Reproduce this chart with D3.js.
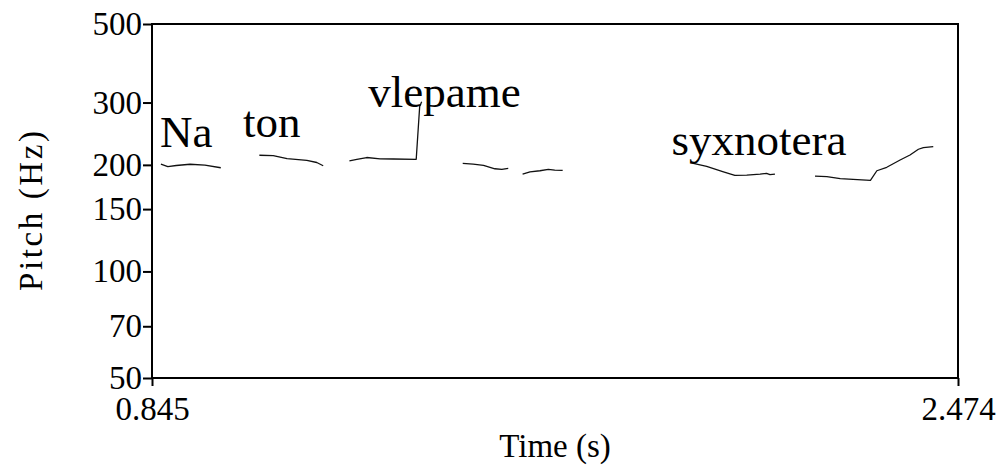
<!DOCTYPE html>
<html lang="en">
<head>
<meta charset="UTF-8">
<title>Pitch</title>
<script src="https://cdnjs.cloudflare.com/ajax/libs/d3/7.8.5/d3.min.js"></script>
<style>
    body { margin: 0; background: #fff; }
    svg text { font-family: "Liberation Serif", "Times New Roman", serif; fill: #000; }
</style>
</head>
<body>
<div class="container"></div>
<script>
    const xTicks = [0.845, 2.474];
    const yTicks = [50, 70, 100, 150, 200, 300, 500];

    // pitch contour pieces (time in s, pitch in Hz)
    const segTimes = [
        [0.863, 0.877, 0.894, 0.922, 0.952, 0.984],
        [1.062, 1.090, 1.118, 1.158, 1.178, 1.191],
        [1.244, 1.259, 1.279, 1.306, 1.333, 1.379, 1.386, 1.390],
        [1.473, 1.494, 1.515, 1.538, 1.552, 1.565],
        [1.594, 1.609, 1.629, 1.646, 1.659, 1.675],
        [1.939, 1.966, 2.000, 2.023, 2.047, 2.074, 2.087, 2.094, 2.104],
        [2.185, 2.209, 2.236, 2.262, 2.297, 2.310, 2.330, 2.357, 2.377, 2.394, 2.404, 2.424]
    ];
    const segPitch = [
        [201.1, 197.8, 199.2, 200.8, 199.8, 196.3],
        [212.9, 212.5, 208.3, 205.8, 203.1, 198.9],
        [205.3, 207.3, 209.8, 208.0, 207.8, 207.4, 292.3, 301.6],
        [202.0, 201.1, 199.4, 195.0, 194.3, 195.5],
        [188.4, 191.2, 192.5, 194.3, 193.4, 193.0],
        [202.0, 198.1, 191.2, 186.8, 187.2, 188.4, 189.3, 187.6, 188.4],
        [186.0, 185.2, 182.8, 182.1, 180.9, 192.5, 196.9, 206.4, 213.3, 221.4, 223.8, 225.2]
    ];

    const words = ['Na', 'ton', 'vlepame', 'syxnotera'];
    const wordTimes = [0.861, 1.029, 1.282, 1.895];
    const wordPitch = [224.6, 240.2, 291.9, 213.3];

    const width = 1002;
    const height = 471;
    const plotLeft = 152, plotRight = 958, plotTop = 24, plotBottom = 378;

    const svg = d3.select('.container')
        .append('svg')
        .attr('width', width)
        .attr('height', height);

    const xScale = d3.scaleLinear()
        .domain([xTicks[0], xTicks[1]])
        .range([plotLeft, plotRight]);

    const yScale = d3.scaleLog()
        .domain([50, 500])
        .range([plotBottom, plotTop]);

    // axes
    const yAxis = d3.axisLeft(yScale)
        .tickValues(yTicks)
        .tickSize(9)
        .tickPadding(1)
        .tickFormat(d3.format('d'));

    const xAxis = d3.axisBottom(xScale)
        .tickValues(xTicks)
        .tickSize(8)
        .tickPadding(11)
        .tickFormat(d3.format('.3f'));

    const gy = svg.append('g')
        .attr('transform', 'translate(' + plotLeft + ',0)')
        .call(yAxis);

    const gx = svg.append('g')
        .attr('transform', 'translate(0,' + plotBottom + ')')
        .call(xAxis);

    [gx, gy].forEach(g => {
        g.select('.domain').remove();
        g.selectAll('line').attr('stroke', '#000').attr('stroke-width', 2);
        g.selectAll('text')
            .attr('font-family', '"Liberation Serif", "Times New Roman", serif')
            .attr('font-size', 33)
            .attr('fill', '#000');
    });

    svg.append('rect')
        .attr('x', plotLeft)
        .attr('y', plotTop)
        .attr('width', plotRight - plotLeft)
        .attr('height', plotBottom - plotTop)
        .attr('fill', 'none')
        .attr('stroke', '#000')
        .attr('stroke-width', 2);

    // contour
    const line = d3.line()
        .x(d => xScale(d[0]))
        .y(d => yScale(d[1]));

    svg.append('g')
        .selectAll('path')
        .data(segTimes.map((ts, i) => ts.map((t, j) => [t, segPitch[i][j]])))
        .enter()
        .append('path')
        .attr('fill', 'none')
        .attr('stroke', '#111')
        .attr('stroke-width', 1.3)
        .attr('stroke-linejoin', 'round')
        .attr('d', line);

    // word labels
    svg.append('g')
        .selectAll('text')
        .data(words)
        .enter()
        .append('text')
        .attr('x', (d, i) => xScale(wordTimes[i]))
        .attr('y', (d, i) => yScale(wordPitch[i]))
        .attr('font-size', 45)
        .text(d => d);

    // titles
    svg.append('text')
        .attr('x', (plotLeft + plotRight) / 2)
        .attr('y', 457)
        .attr('text-anchor', 'middle')
        .attr('font-size', 33)
        .text('Time (s)');

    svg.append('text')
        .attr('transform', 'translate(42,211) rotate(-90)')
        .attr('text-anchor', 'middle')
        .attr('font-size', 33)
        .attr('textLength', 160)
        .attr('lengthAdjust', 'spacing')
        .text('Pitch (Hz)');
</script>
</body>
</html>
